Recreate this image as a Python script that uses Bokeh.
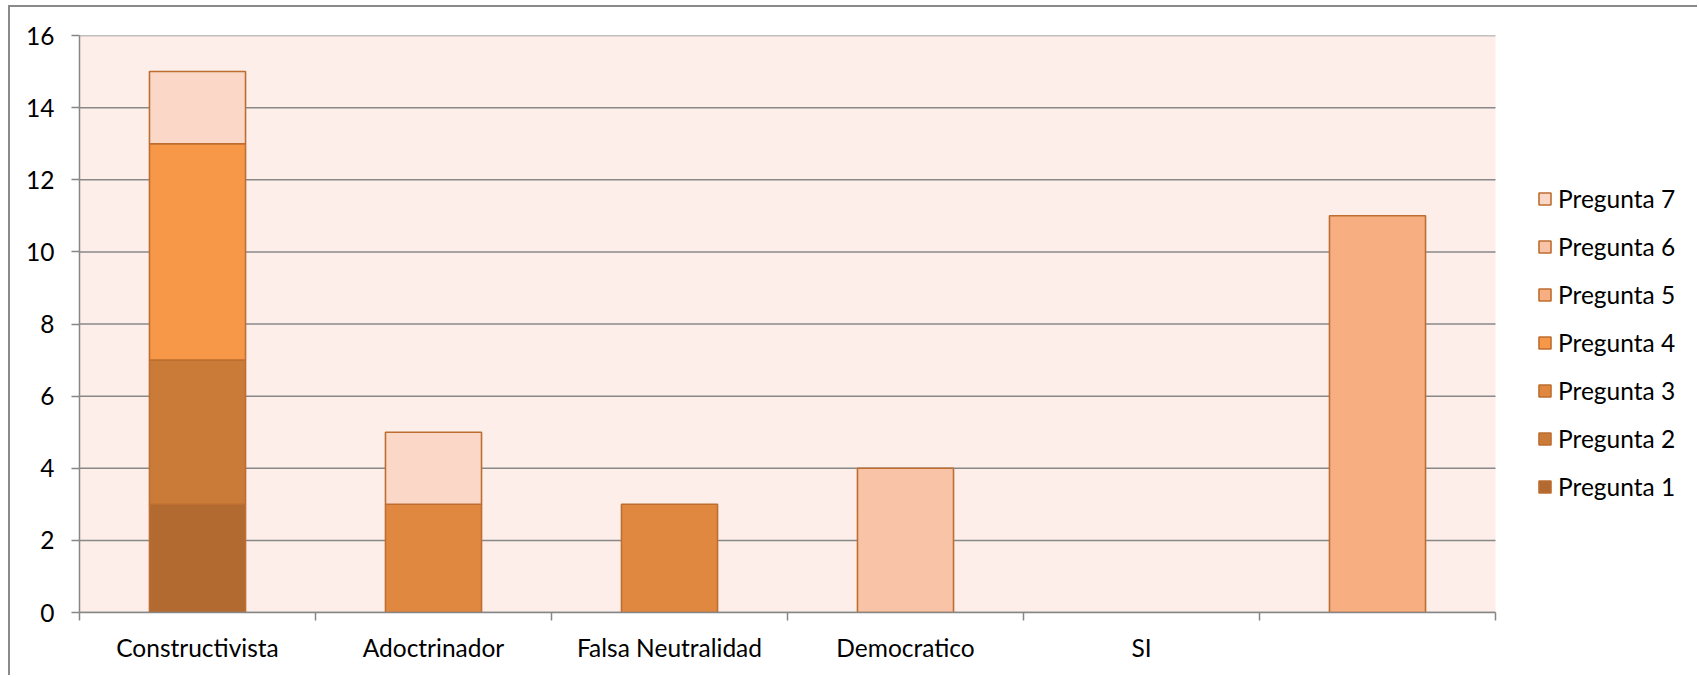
from bokeh.plotting import figure
from bokeh.models import ColumnDataSource, FixedTicker, Legend, LegendItem, Range1d
from bokeh.embed import file_html
from bokeh.resources import INLINE

categories = ["Constructivista", "Adoctrinador", "Falsa Neutralidad", "Democratico", "SI", ""]
series_names = ["Pregunta 1", "Pregunta 2", "Pregunta 3", "Pregunta 4", "Pregunta 5", "Pregunta 6", "Pregunta 7"]
pregunta_1 = [3, 0, 0, 0, 0, 0]
pregunta_2 = [4, 0, 0, 0, 0, 0]
pregunta_3 = [0, 3, 3, 0, 0, 0]
pregunta_4 = [6, 0, 0, 0, 0, 0]
pregunta_5 = [0, 0, 0, 0, 0, 11]
pregunta_6 = [0, 0, 0, 4, 0, 0]
pregunta_7 = [2, 2, 0, 0, 0, 0]
y_ticks = [0, 2, 4, 6, 8, 10, 12, 14, 16]

series_values = [pregunta_1, pregunta_2, pregunta_3, pregunta_4, pregunta_5, pregunta_6, pregunta_7]
colors = ["#B26A30", "#CB7B38", "#E18840", "#F79848", "#F7AF82", "#F9C3A8", "#FAD7C6"]
edge = "#BD6E30"
FONT = "Lato"
FS = "24.5px"

n = len(categories)
W, H = 1689, 670
PLOT_W = 1416          # pixel width of the category area
FRAME_W = W - 69       # frame runs to the right edge, legend lives inside it
x_end = n * FRAME_W / PLOT_W

p = figure(width=W, height=H, output_backend="svg", toolbar_location=None,
           x_range=Range1d(0, x_end), y_range=Range1d(y_ticks[0], y_ticks[-1]),
           min_border_left=69, min_border_top=28, min_border_right=0, min_border_bottom=65)
p.styles = {"border-left": "2px solid #8A8A8A", "border-top": "2px solid #8A8A8A",
            "margin-left": "8px", "margin-top": "5px"}
p.background_fill_color = "white"
p.border_fill_color = "white"
p.outline_line_color = None
p.xgrid.grid_line_color = None
p.ygrid.grid_line_color = None

# plot area background and horizontal gridlines (only over the category area)
p.quad(left=[0], right=[n], bottom=[y_ticks[0]], top=[y_ticks[-1]],
       fill_color="#FDEEE9", line_color=None)
p.segment(x0=[0] * len(y_ticks), x1=[n] * len(y_ticks), y0=y_ticks, y1=y_ticks,
          line_color="#888888", line_width=1.5)

# stacked bars
bottoms = [0.0] * n
renderers = []
for name, vals, col in zip(series_names, series_values, colors):
    xs, bs, ts = [], [], []
    for i, v in enumerate(vals):
        if v > 0:
            xs.append(i + 0.5)
            bs.append(bottoms[i])
            ts.append(bottoms[i] + v)
        bottoms[i] += v
    src = ColumnDataSource(dict(x=xs, bottom=bs, top=ts))
    r = p.vbar(x="x", bottom="bottom", top="top", width=0.407, source=src,
               fill_color=col, line_color=edge, line_width=1.6)
    renderers.append(r)

# y axis
p.yaxis.ticker = FixedTicker(ticks=y_ticks, minor_ticks=[])
p.yaxis.axis_line_color = "#868686"
p.yaxis.axis_line_width = 1.5
p.yaxis.major_tick_line_color = "#868686"
p.yaxis.major_tick_line_width = 1.5
p.yaxis.major_tick_out = 8
p.yaxis.major_tick_in = 0
p.yaxis.minor_tick_line_color = None
p.yaxis.major_label_standoff = 17
p.yaxis.major_label_text_font = FONT
p.yaxis.major_label_text_font_size = FS
p.yaxis.major_label_text_color = "black"

# x axis: labels at centres, ticks at boundaries
centres = [i + 0.5 for i in range(n)]
bounds = [float(i) for i in range(n + 1)]
p.xaxis.bounds = (0, n)
p.xaxis.ticker = FixedTicker(ticks=centres, minor_ticks=bounds)
p.xaxis.major_label_overrides = {c: lab for c, lab in zip(centres, categories)}
p.xaxis.axis_line_color = "#868686"
p.xaxis.axis_line_width = 1.5
p.xaxis.major_tick_line_color = None
p.xaxis.major_tick_out = 8
p.xaxis.major_tick_in = 0
p.xaxis.minor_tick_line_color = "#868686"
p.xaxis.minor_tick_line_width = 1.5
p.xaxis.minor_tick_out = 8
p.xaxis.minor_tick_in = 0
p.xaxis.major_label_standoff = 12
p.xaxis.major_label_text_font = FONT
p.xaxis.major_label_text_font_size = FS
p.xaxis.major_label_text_color = "black"

# legend
items = [LegendItem(label=nm, renderers=[r]) for nm, r in zip(series_names, renderers)][::-1]
legend = Legend(items=items, location=(1458, 109), orientation="vertical",
                padding=0, margin=0, spacing=14, label_height=34, glyph_height=15,
                glyph_width=15, label_standoff=6,
                label_text_font=FONT, label_text_font_size=FS, label_text_color="black",
                border_line_color=None, background_fill_alpha=0)
p.add_layout(legend, "center")

open("out.html", "w").write(file_html(p, INLINE))
